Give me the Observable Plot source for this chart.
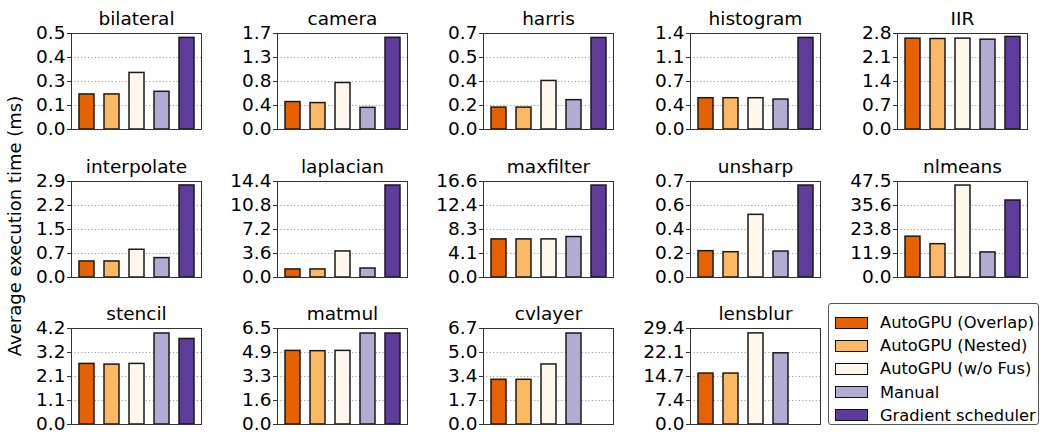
<!DOCTYPE html>
<html>
<head>
<meta charset="utf-8">
<script src="https://cdn.jsdelivr.net/npm/d3@7"></script>
<script src="https://cdn.jsdelivr.net/npm/@observablehq/plot@0.6"></script>
<style>
  html, body { margin: 0; padding: 0; background: #fff; }
  #root { position: relative; width: 1045px; height: 436px; font-family: "DejaVu Sans", sans-serif; color: #000; overflow: hidden; }
  .panel { position: absolute; }
  .panel svg { overflow: visible; }
  #ylabel { position: absolute; left: 14px; top: 226px; transform: translate(-50%, -50%) rotate(-90deg); white-space: nowrap; font-size: 18px; }
  #legend { position: absolute; left: 828px; top: 303px; width: 211px; height: 122px; border: 1px solid #555; border-radius: 3px; box-sizing: border-box; padding: 7px 0 0 6px; }
  .item { display: flex; align-items: center; height: 23.2px; font-size: 16.3px; white-space: nowrap; }
  .sw { width: 31px; height: 10px; border: 1.5px solid #111; margin-right: 12px; flex: none; }
</style>
</head>
<body>
<div id="root"><div id="ylabel">Average execution time (ms)</div><div id="legend"></div></div>
<script>
const benchmarks = ["bilateral", "camera", "harris", "histogram", "IIR",
  "interpolate", "laplacian", "maxfilter", "unsharp", "nlmeans",
  "stencil", "matmul", "cvlayer", "lensblur"];
const seriesNames = ["AutoGPU (Overlap)", "AutoGPU (Nested)", "AutoGPU (w/o Fus)", "Manual", "Gradient scheduler"];
const seriesColors = ["#e66101", "#fdb863", "#fef8ec", "#b2abd2", "#5e3c99"];

const overlap  = [0.184, 0.486, 0.162, 0.463, 2.65, 0.488, 1.21, 6.59, 0.203, 20.2, 2.67, 5.00, 3.12, 15.6];
const nested   = [0.184, 0.468, 0.162, 0.463, 2.64, 0.488, 1.21, 6.59, 0.195, 16.5, 2.64, 4.98, 3.12, 15.6];
const woFus    = [0.297, 0.823, 0.359, 0.463, 2.65, 0.844, 3.91, 6.59, 0.483, 45.5, 2.67, 5.00, 4.19, 27.9];
const manual   = [0.198, 0.384, 0.217, 0.443, 2.62, 0.590, 1.35, 7.00, 0.200, 12.4, 4.01, 6.18, 6.35, 21.8];
const gradient = [0.481, 1.624, 0.677, 1.355, 2.70, 2.80, 13.8, 15.9, 0.709, 38.1, 3.77, 6.18, null, null];

const axisMax = [0.504, 1.70, 0.71, 1.42, 2.8, 2.92, 14.4, 16.6, 0.74, 47.5, 4.23, 6.52, 6.7, 29.4];
const tickLabels = [
  ["0.0", "0.1", "0.3", "0.4", "0.5"],
  ["0.0", "0.4", "0.8", "1.3", "1.7"],
  ["0.0", "0.2", "0.4", "0.5", "0.7"],
  ["0.0", "0.4", "0.7", "1.1", "1.4"],
  ["0.0", "0.7", "1.4", "2.1", "2.8"],
  ["0.0", "0.7", "1.5", "2.2", "2.9"],
  ["0.0", "3.6", "7.2", "10.8", "14.4"],
  ["0.0", "4.1", "8.3", "12.4", "16.6"],
  ["0.0", "0.2", "0.4", "0.6", "0.7"],
  ["0.0", "11.9", "23.8", "35.6", "47.5"],
  ["0.0", "1.1", "2.1", "3.2", "4.2"],
  ["0.0", "1.6", "3.3", "4.9", "6.5"],
  ["0.0", "1.7", "3.4", "5.0", "6.7"],
  ["0.0", "7.4", "14.7", "22.1", "29.4"]
];

const allSeries = [overlap, nested, woFus, manual, gradient];
const colLeft = [71, 277, 483, 690, 897];
const rowTop = [33, 181, 328];
const boxW = 130, boxH = 96;
const mL = 60, mR = 6, mT = 30, mB = 8;

const root = document.getElementById("root");

benchmarks.forEach((name, i) => {
  const r = Math.floor(i / 5), c = i % 5;
  const data = seriesNames.map((s, k) => ({series: s, value: allSeries[k][i]})).filter(d => d.value != null);
  const T = axisMax[i];
  const ticks = d3.range(5).map(k => T * k / 4);
  const labels = tickLabels[i];
  const chart = Plot.plot({
    width: mL + boxW + mR,
    height: mT + boxH + mB,
    marginLeft: mL, marginRight: mR, marginTop: mT, marginBottom: mB,
    style: {fontFamily: "DejaVu Sans, sans-serif", color: "#000", background: "transparent"},
    x: {type: "band", domain: seriesNames, paddingInner: 0.42, paddingOuter: 0.28, axis: null},
    y: {domain: [0, T]},
    color: {domain: seriesNames, range: seriesColors},
    marks: [
      Plot.ruleY(ticks.slice(1, 4), {stroke: "#a0a0a0", strokeWidth: 1, strokeDasharray: "1.2,2.2"}),
      Plot.barY(data, {x: "series", y: "value", fill: "series", stroke: "#1a1a1a", strokeWidth: 1.5}),
      Plot.frame({stroke: "#333", strokeWidth: 1}),
      Plot.axisY({ticks: ticks, tickFormat: (d) => labels[ticks.indexOf(d)], tickSize: 4, tickPadding: 2, fontSize: 18.5, label: null, stroke: "#333"}),
      Plot.text([name], {frameAnchor: "top", lineAnchor: "bottom", dy: -9, fontSize: 18.5, fill: "#000"})
    ]
  });
  const wrap = document.createElement("div");
  wrap.className = "panel";
  wrap.style.left = (colLeft[c] - mL) + "px";
  wrap.style.top = (rowTop[r] - mT) + "px";
  wrap.appendChild(chart);
  root.appendChild(wrap);
});

const legend = document.getElementById("legend");
seriesNames.forEach((s, k) => {
  const item = document.createElement("div");
  item.className = "item";
  const sw = document.createElement("div");
  sw.className = "sw";
  sw.style.background = seriesColors[k];
  const t = document.createElement("span");
  t.textContent = s;
  item.appendChild(sw);
  item.appendChild(t);
  legend.appendChild(item);
});
</script>
</body>
</html>
